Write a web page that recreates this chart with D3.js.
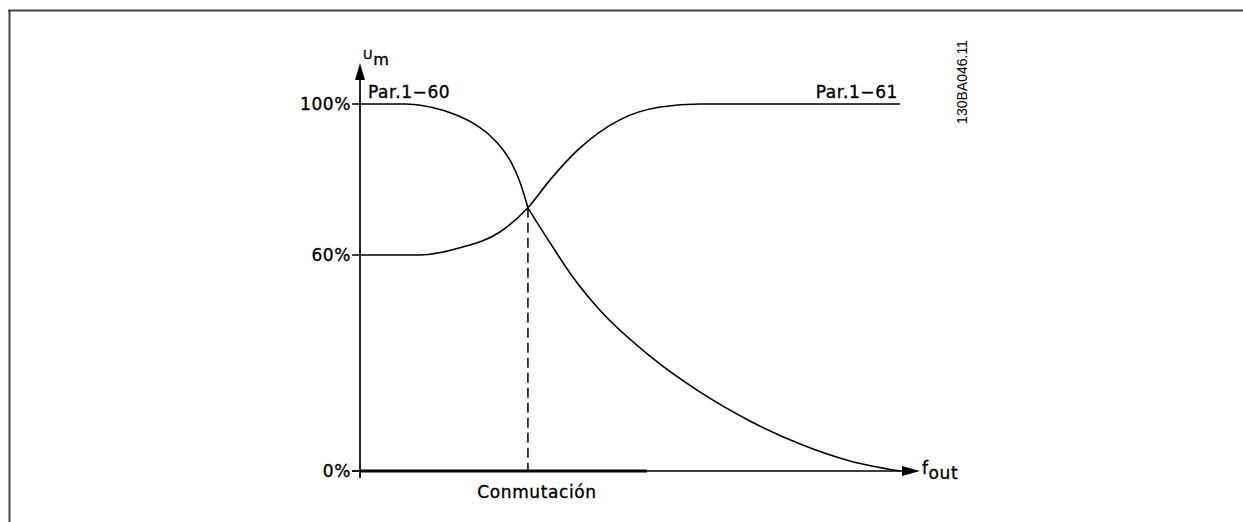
<!DOCTYPE html>
<html>
<head>
<meta charset="utf-8">
<script src="https://cdn.jsdelivr.net/npm/d3@7/dist/d3.min.js"></script>
<style>
  body { margin: 0; background: #fff; }
  svg { display: block; }
  text { font-family: "DejaVu Sans", sans-serif; fill: #000; stroke: #000; stroke-width: 0.35px; letter-spacing: 0.6px; }
</style>
</head>
<body>
<div id="chart"></div>
<script>
// frequency (0..100 = axis end) and voltage in percent
var fDown = [0, 8.3, 13.0, 17.6, 21.3, 24.1, 26.3, 28.1, 29.6, 31.1, 35.2, 39.4, 44.4, 53.7, 63, 72.2, 81.5, 90.7, 100];
var uDown = [100, 100, 99.2, 97.2, 94.6, 91.6, 88.2, 84.3, 79.4, 72.5, 63.2, 53.9, 44.7, 31.9, 21.9, 13.9, 7.5, 2.8, 0];

var fUp = [0, 11.1, 18.5, 25.9, 31.1, 35.2, 40.7, 48.1, 55.6, 63, 100];
var uUp = [60, 60, 61.9, 66.1, 72.5, 79.9, 88.3, 95.8, 99.2, 100, 100];

var yTicks = [0, 60, 100];
var yTickLabels = ["0%", "60%", "100%"];
var switchF = 31.1;
var switchU = 72.5;
var curveLabels = ["Par.1\u221260", "Par.1\u221261"];

var width = 1243, height = 522;

var svg = d3.select("#chart").append("svg")
  .attr("width", width)
  .attr("height", height);

// frame (top and left only)
svg.append("line").attr("x1", 8).attr("y1", 10.5).attr("x2", width).attr("y2", 10.5)
  .style("stroke", "#444").style("stroke-width", 2);
svg.append("line").attr("x1", 9.5).attr("y1", 10).attr("x2", 9.5).attr("y2", height)
  .style("stroke", "#444").style("stroke-width", 2);

var x = d3.scaleLinear().domain([0, 100]).range([360, 900]);
var y = d3.scaleLinear().domain([0, 60, 100]).range([471, 255, 104]);

var line = d3.line()
  .x(function(d) { return x(d[0]); })
  .y(function(d) { return y(d[1]); })
  .curve(d3.curveMonotoneX);

// y axis with arrow
svg.append("line").attr("x1", x(0)).attr("y1", 478).attr("x2", x(0)).attr("y2", 78)
  .style("stroke", "#222").style("stroke-width", 2);
svg.append("path")
  .attr("d", "M" + x(0) + ",63 L" + (x(0) - 5) + ",80 L" + (x(0) + 5) + ",80 Z")
  .style("fill", "#000");

// x axis with arrow
svg.append("line").attr("x1", 352).attr("y1", y(0)).attr("x2", 905).attr("y2", y(0))
  .style("stroke", "#000").style("stroke-width", 1.5);
svg.append("line").attr("x1", x(0)).attr("y1", y(0)).attr("x2", 647).attr("y2", y(0))
  .style("stroke", "#000").style("stroke-width", 3);
svg.append("path")
  .attr("d", "M920," + y(0) + " L902," + (y(0) - 5) + " L902," + (y(0) + 5) + " Z")
  .style("fill", "#000");

// y ticks and labels
yTicks.forEach(function(t, i) {
  svg.append("line").attr("x1", 352).attr("y1", y(t)).attr("x2", x(0)).attr("y2", y(t))
    .style("stroke", "#000").style("stroke-width", 1.5);
  svg.append("text")
    .attr("x", 351).attr("y", y(t) + 6)
    .attr("text-anchor", "end")
    .style("font-size", "17px")
    .text(yTickLabels[i]);
});

// curves (the falling one bends at the switch-over point)
var down = fDown.map(function(f, i) { return [f, uDown[i]]; });
var up = fUp.map(function(f, i) { return [f, uUp[i]]; });
var downA = down.filter(function(d) { return d[0] <= switchF; });
var downB = down.filter(function(d) { return d[0] >= switchF; });

[downA, downB, up].forEach(function(seg) {
  svg.append("path").datum(seg).attr("d", line)
    .style("fill", "none").style("stroke", "#000").style("stroke-width", 1.6);
});

// switch-over dashed line
svg.append("line")
  .attr("x1", x(switchF)).attr("y1", y(switchU))
  .attr("x2", x(switchF)).attr("y2", y(0))
  .style("stroke", "#000").style("stroke-width", 1.5)
  .style("stroke-dasharray", "10,5");

// labels
svg.append("text").attr("x", 368).attr("y", 98)
  .style("font-size", "17px").text(curveLabels[0]);
svg.append("text").attr("x", 898).attr("y", 98)
  .attr("text-anchor", "end")
  .style("font-size", "17px").text(curveLabels[1]);

svg.append("text").attr("x", 537).attr("y", 498)
  .attr("text-anchor", "middle")
  .style("font-size", "17px").text("Conmutación");

var um = svg.append("text").attr("x", 363).attr("y", 59).style("font-size", "13px");
um.append("tspan").text("U");
um.append("tspan").attr("dy", 6).style("font-size", "16px").text("m");

var fo = svg.append("text").attr("x", 922).attr("y", 474).style("font-size", "17px");
fo.append("tspan").text("f");
fo.append("tspan").attr("dy", 5).text("out");

svg.append("text")
  .attr("transform", "translate(967,82) rotate(-90)")
  .attr("text-anchor", "middle")
  .style("font-family", "'Liberation Sans', Arial, sans-serif")
  .style("font-size", "14px")
  .style("stroke-width", 0)
  .style("letter-spacing", "0px")
  .text("130BA046.11");
</script>
</body>
</html>
